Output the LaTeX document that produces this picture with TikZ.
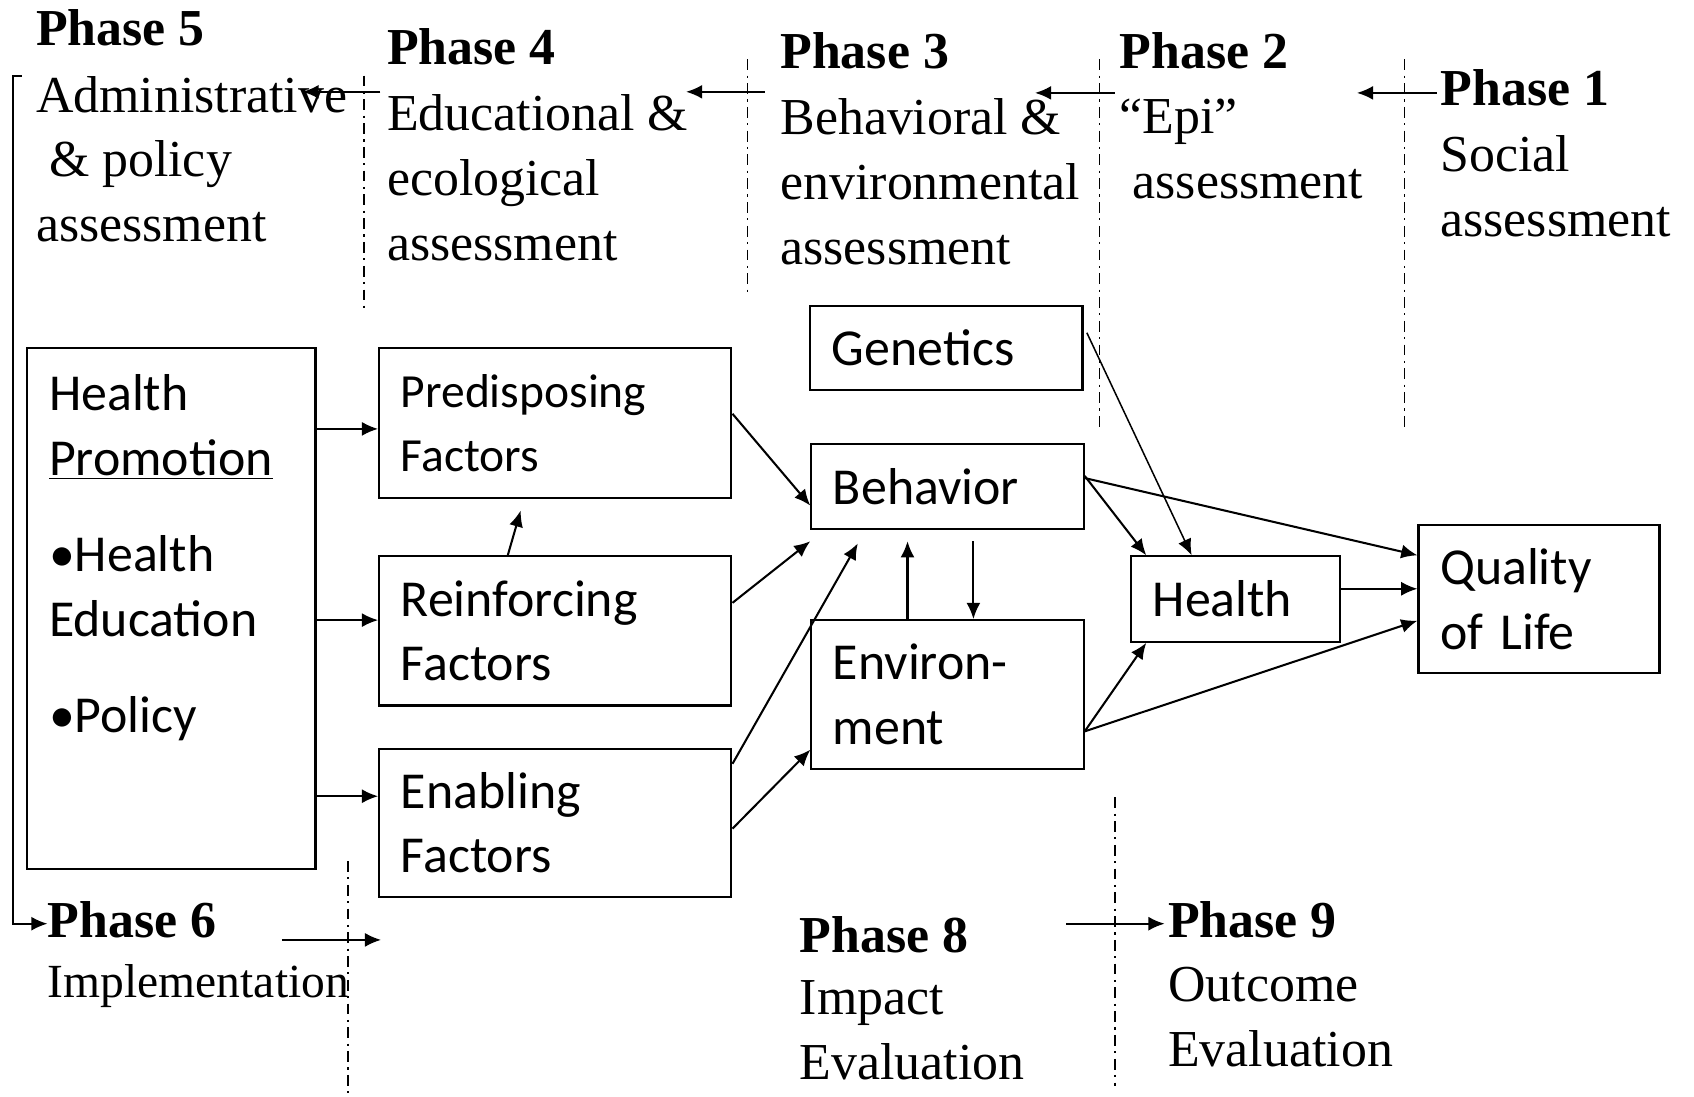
\documentclass[tikz,border=0pt]{standalone}
\usepackage{fontspec}
\setmainfont{Liberation Serif}
\newfontfamily\boxfont{Carlito}
\usetikzlibrary{arrows.meta}

\begin{document}
\begin{tikzpicture}[x=0.5pt, y=-0.5pt,
  box/.style={draw, line width=1pt, inner xsep=10pt, inner ysep=0pt, align=left, font=\boxfont\fontsize{24}{30}\selectfont},
  phase/.style={anchor=base west, inner sep=0pt, font=\bfseries\fontsize{24}{30}\selectfont},
  phasetext/.style={anchor=north west, inner sep=0pt, align=left, font=\fontsize{24}{30}\selectfont},
  arr/.style={-{Latex[length=7.5pt,width=6.5pt]}, line width=0.95pt},
  sep/.style={line width=0.6pt, dash pattern=on 5pt off 2.5pt on 1pt off 2.5pt}]

\useasboundingbox (0,0) rectangle (1568,1015);

\node[phase] (p5head) at (33,42) {Phase 5};
\node[phasetext] (p5body) at (33,70) {Administrative\\\hspace*{6pt}\& policy\\assessment};
\node[phase] (p4head) at (358,60) {Phase 4};
\node[phasetext] (p4body) at (358,87) {Educational \&\\ecological\\assessment};
\node[phase] (p3head) at (722,63) {Phase 3};
\node[phasetext] (p3body) at (722,91) {Behavioral \&\\environmental\\assessment};
\node[phase] (p2head) at (1036,63) {Phase 2};
\node[phasetext] (p2body) at (1036,91) {“Epi”\\\hspace*{6pt}assessment};
\node[phase] (p1head) at (1333,98) {Phase 1};
\node[phasetext] (p1body) at (1333,125) {Social\\assessment};
\node[phase] (p6head) at (44,868) {Phase 6};
\node[phasetext, font=\fontsize{22}{27}\selectfont] (p6body) at (44,892) {Implementation};
\node[phase] (p8head) at (740,882) {Phase 8};
\node[phasetext] (p8body) at (740,907) {Impact\\Evaluation};
\node[phase] (p9head) at (1081,868) {Phase 9};
\node[phasetext] (p9body) at (1081,895) {Outcome\\Evaluation};

\node[box, minimum width=133.5pt, minimum height=241pt] (hp) at (158.5,563) {};
\node[phasetext, font=\boxfont\fontsize{24}{30}\selectfont] (hptext) at (45,346) {Health\\\underline{Promotion}\\[14.5pt]\textbullet Health\\Education\\[14.5pt]\textbullet Policy};
\node[box, text width=143pt, minimum height=69.5pt, font=\boxfont\fontsize{22}{29.5}\selectfont] (pred) at (514,391.5) {Predisposing\\Factors};
\node[box, text width=143pt, minimum height=69pt] (reinf) at (514,584) {Reinforcing\\Factors};
\node[box, text width=143pt, minimum height=68.5pt] (enab) at (514,761.5) {Enabling\\Factors};
\node[box, text width=106pt, minimum height=39pt] (gen) at (876,322) {Genetics};
\node[box, text width=106pt, minimum height=39.5pt] (beh) at (877,450.5) {Behavior};
\node[box, text width=106pt, minimum height=69pt] (env) at (877,643) {Environ-\\ment};
\node[box, text width=76.5pt, minimum height=39.5pt] (health) at (1143.5,554.5) {Health};
\node[box, text width=91.5pt, minimum height=68.5pt] (qol) at (1424.5,554.5) {Quality\\of Life};

\foreach \x/\ya/\yb in {337/70/289, 692/55/272, 1018/55/396, 1300/55/396, 322/797/1015, 1032/738/1005}
  \draw[sep] (\x,\ya) -- (\x,\yb);

\draw[arr] ([shift={(-3pt,1pt)}]p4body.north west) -- ++(-36pt,0pt);
\draw[arr] ([shift={(-7pt,3pt)}]p3body.north west) -- ++(-36.5pt,0pt);
\draw[arr] ([shift={(-2pt,2.5pt)}]p2body.north west) -- ++(-37pt,0pt);
\draw[arr] ([shift={(-1.5pt,6pt)}]p1head.base west) -- ++(-37pt,0pt);
\draw[arr] ([xshift=-6.5pt]p5body.north west) -- ++(-4pt,0pt) |- ([yshift=6.5pt]p6head.base west);
\draw[arr] ([shift={(30pt,-1pt)}]p6head.base east) -- ++(46pt,0pt);
\draw[arr] ([shift={(45pt,13.5pt)}]p8head.base east) -- ([shift={(-1.5pt,6.5pt)}]p9head.base west);

\draw[arr] ([yshift=-2.75pt]hp.east |- pred.west) -- ([yshift=-2.75pt]pred.west);
\draw[arr] ([yshift=5pt]hp.east |- reinf.west) -- ([yshift=5pt]reinf.west);
\draw[arr] ([yshift=12.25pt]hp.east |- enab.west) -- ([yshift=12.25pt]enab.west);
\draw[arr, shorten >=5.5pt] ([xshift=-22pt]reinf.north) -- ([xshift=-14.5pt]pred.south);
\draw[arr] ([yshift=4.25pt]pred.east) -- ([yshift=-8.75pt]beh.west);
\draw[arr] ([yshift=13pt]reinf.east) -- ([yshift=-5pt]beh.south west);
\draw[arr] ([yshift=-7.5pt]enab.north east) -- ([shift={(22pt,-6pt)}]beh.south west);
\draw[arr] ([yshift=-2.75pt]enab.east) -- ([yshift=-25.5pt]env.west);
\draw[arr] ([xshift=-18.5pt]env.north) -- ([shift={(-18.5pt,-5pt)}]beh.south);
\draw[arr] ([shift={(12pt,-5pt)}]beh.south) -- ([xshift=12pt]env.north);
\draw[arr, line width=0.7pt] ([shift={(1.5pt,7pt)}]gen.east) -- ([xshift=-20.25pt]health.north);
\draw[arr] ([yshift=5pt]beh.east) -- ([xshift=7.5pt]health.north west);
\draw[arr] ([yshift=4pt]beh.east) -- ([yshift=-14.5pt]qol.north west);
\draw[arr] ([yshift=4.75pt]health.east) -- ([yshift=4.75pt]qol.west);
\draw[arr] ([yshift=-17pt]env.east) -- ([xshift=7.5pt]health.south west);
\draw[arr] ([yshift=-17pt]env.east) -- ([yshift=-10pt]qol.west);

\end{tikzpicture}
\end{document}
